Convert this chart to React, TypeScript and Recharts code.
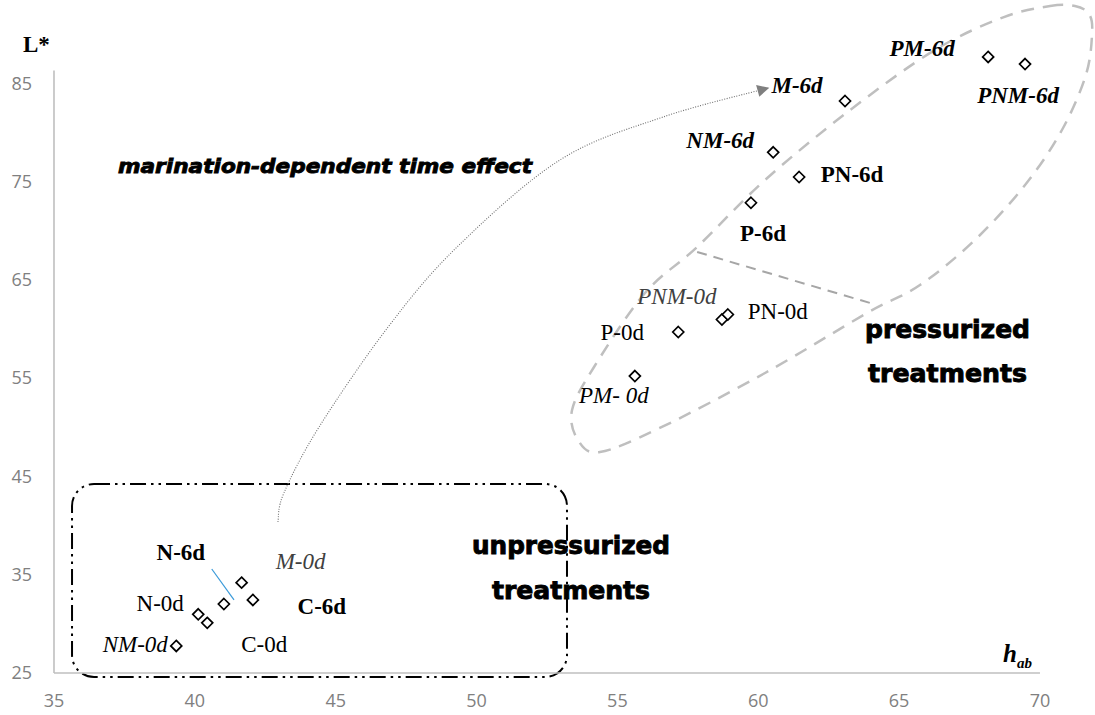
import React from "react";
import { ScatterChart, Scatter, XAxis, YAxis, ReferenceLine, ReferenceArea } from "recharts";

// samples (h_ab vs L*)
const sampleNames = [
  "NM-0d", "C-0d", "N-0d", "N-6d", "C-6d", "M-0d",
  "PM- 0d", "P-0d", "PNM-0d", "PN-0d", "P-6d", "NM-6d", "PN-6d", "M-6d", "PM-6d", "PNM-6d",
];
const habValues = [39.34, 40.44, 40.12, 41.03, 42.06, 41.66, 55.62, 57.16, 58.71, 58.92, 59.74, 60.53, 61.45, 63.08, 68.16, 69.47];
const lStarValues = [27.75, 30.1, 30.97, 32.02, 32.43, 34.19, 55.21, 59.69, 60.96, 61.47, 72.84, 77.97, 75.46, 83.19, 87.67, 86.95];

const xTicks = [35, 40, 45, 50, 55, 60, 65, 70];
const yTicks = [25, 35, 45, 55, 65, 75, 85];

// outline around the pressurized group
const ellipseHab = [70.36, 71.24, 71.74, 71.85, 71.63, 70.78, 69.47, 67.69, 65.74, 63.86, 60.24, 56.58, 54.38, 53.6, 53.39, 54.17, 55.98, 57.83, 60.24, 63.26, 66.27, 68.72];
const ellipseL = [92.85, 92.85, 92.04, 90.11, 85.84, 80.24, 74.64, 69.05, 64.47, 61.62, 55.52, 50.03, 47.48, 48.7, 51.75, 56.13, 63.66, 68.34, 75.15, 82.27, 88.38, 91.73];

// dotted arrow "marination-dependent time effect"
const arrowHab = [42.95, 43.16, 44.41, 46.86, 49.31, 52.96, 56.62, 60.35];
const arrowL = [40.36, 43.31, 50.03, 60.2, 68.34, 77.19, 81.56, 84.51];

const points = sampleNames.map((name, i) => ({ name, hab: habValues[i], L: lStarValues[i] }));
const ellipse = ellipseHab.map((hab, i) => ({ hab, L: ellipseL[i] }));
const arrow = arrowHab.map((hab, i) => ({ hab, L: arrowL[i] }));

const SERIF = '"Liberation Serif", "DejaVu Serif", serif';
const HEAVY = '"DejaVu Sans", "Liberation Sans", sans-serif';
const TICK = '"Open Sans", "Liberation Sans", sans-serif';

// label placement relative to each marker (px) and text style
const labelLayout: Record<string, { dx: number; dy: number; bold?: boolean; italic?: boolean; color?: string }> = {
  "NM-0d": { dx: -41, dy: -1, italic: true },
  "C-0d": { dx: 57, dy: 22 },
  "N-0d": { dx: -38, dy: -11 },
  "N-6d": { dx: -43, dy: -51, bold: true },
  "C-6d": { dx: 69, dy: 7, bold: true },
  "M-0d": { dx: 59, dy: -21, italic: true, color: "#404040" },
  "PM- 0d": { dx: -21, dy: 19, italic: true },
  "P-0d": { dx: -56, dy: 1 },
  "PNM-0d": { dx: -45, dy: -23, italic: true, color: "#404040" },
  "PN-0d": { dx: 50, dy: -3 },
  "P-6d": { dx: 12, dy: 31, bold: true },
  "NM-6d": { dx: -53, dy: -12, bold: true, italic: true },
  "PN-6d": { dx: 53, dy: -2, bold: true },
  "M-6d": { dx: -48, dy: -15, bold: true, italic: true },
  "PM-6d": { dx: -66, dy: -8, bold: true, italic: true },
  "PNM-6d": { dx: -7, dy: 31, bold: true, italic: true },
};

function smoothPath(pts: { x: number; y: number }[], closed: boolean) {
  const n = pts.length;
  if (n < 2) return "";
  const get = (i: number) => (closed ? pts[(i + n) % n] : pts[Math.max(0, Math.min(n - 1, i))]);
  let d = `M${pts[0].x},${pts[0].y}`;
  const segs = closed ? n : n - 1;
  for (let i = 0; i < segs; i++) {
    const p0 = get(i - 1), p1 = get(i), p2 = get(i + 1), p3 = get(i + 2);
    const c1x = p1.x + (p2.x - p0.x) / 6, c1y = p1.y + (p2.y - p0.y) / 6;
    const c2x = p2.x - (p3.x - p1.x) / 6, c2y = p2.y - (p3.y - p1.y) / 6;
    d += ` C${c1x},${c1y} ${c2x},${c2y} ${p2.x},${p2.y}`;
  }
  return closed ? d + " Z" : d;
}

const Diamond = (props: any) => {
  const { cx, cy, payload } = props;
  if (cx == null || cy == null) return <g />;
  const r = 5.5;
  const lay = labelLayout[payload?.name] || { dx: 0, dy: -14 };
  return (
    <g>
      <path
        d={`M${cx},${cy - r} L${cx + r},${cy} L${cx},${cy + r} L${cx - r},${cy} Z`}
        fill="#fff"
        stroke="#000"
        strokeWidth={1.7}
      />
      <text
        x={cx + lay.dx}
        y={cy + lay.dy}
        textAnchor="middle"
        dominantBaseline="central"
        fontFamily={SERIF}
        fontSize={23}
        fontWeight={lay.bold ? 700 : 400}
        fontStyle={lay.italic ? "italic" : "normal"}
        fill={lay.color || "#000"}
      >
        {payload?.name}
      </text>
    </g>
  );
};

const NoDot = () => <g />;

const heavy = { fontFamily: HEAVY, fontWeight: 700, fill: "#000", stroke: "#000", strokeWidth: 0.9 };

export default function App() {
  return (
    <div style={{ position: "absolute", left: 0, top: 0, width: 1095, height: 715, background: "#fff" }}>
      <ScatterChart width={1095} height={715} margin={{ top: 4.56, right: 1.5, left: 0, bottom: 12 }}>
        <defs>
          <marker id="arrowHead" viewBox="0 0 10 10" refX="9" refY="5" markerWidth="15" markerHeight="12" markerUnits="userSpaceOnUse" orient="auto">
            <path d="M0,0 L10,5 L0,10 z" fill="#7f7f7f" />
          </marker>
        </defs>
        <XAxis
          type="number"
          dataKey="hab"
          domain={[35, 71.9]}
          ticks={xTicks}
          axisLine={false}
          tickLine={false}
          tickMargin={15}
          height={30}
          tick={{ fill: "#808080", fontSize: 18, fontFamily: TICK }}
        />
        <YAxis
          type="number"
          dataKey="L"
          domain={[25, 93]}
          ticks={yTicks}
          axisLine={false}
          tickLine={false}
          tickMargin={16}
          width={54}
          tick={{ fill: "#808080", fontSize: 18, fontFamily: TICK }}
        />
        <ReferenceLine segment={[{ x: 35, y: 25 }, { x: 70, y: 25 }]} stroke="#bfbfbf" strokeWidth={1.6} />
        <ReferenceLine segment={[{ x: 35, y: 25 }, { x: 35, y: 86.3 }]} stroke="#bfbfbf" strokeWidth={1.6} />
        <ReferenceArea
          x1={35.64}
          x2={53.21}
          y1={24.59}
          y2={44.23}
          ifOverflow="visible"
          shape={(p: any) => (
            <rect
              x={p.x}
              y={p.y}
              width={p.width}
              height={p.height}
              rx={22}
              ry={22}
              fill="none"
              stroke="#000"
              strokeWidth={2}
              strokeDasharray="16 5 2.5 5 2.5 5"
            />
          )}
        />
        <ReferenceLine segment={[{ x: 57.83, y: 67.83 }, { x: 63.97, y: 62.64 }]} stroke="#a6a6a6" strokeWidth={2} strokeDasharray="10 7" />
        <ReferenceLine segment={[{ x: 40.6, y: 35.58 }, { x: 41.39, y: 32.43 }]} stroke="#3a9ad9" strokeWidth={1.2} />
        <Scatter
          data={ellipse}
          shape={NoDot}
          isAnimationActive={false}
          line={(p: any) => (
            <path d={smoothPath(p.points, true)} fill="none" stroke="#bfbfbf" strokeWidth={2.5} strokeDasharray="13 9" />
          )}
        />
        <Scatter
          data={arrow}
          shape={NoDot}
          isAnimationActive={false}
          line={(p: any) => (
            <path
              d={smoothPath(p.points, false)}
              fill="none"
              stroke="#6f6f6f"
              strokeWidth={1.1}
              strokeDasharray="1 1.5"
              markerEnd="url(#arrowHead)"
            />
          )}
        />
        <Scatter data={points} shape={Diamond} isAnimationActive={false} />
        <text x={118} y={173} {...heavy} fontStyle="italic" fontSize={20} textLength={414} lengthAdjust="spacingAndGlyphs">
          marination-dependent time effect
        </text>
        <text x={865} y={338} {...heavy} fontSize={24} textLength={165} lengthAdjust="spacingAndGlyphs">
          pressurized
        </text>
        <text x={868} y={382} {...heavy} fontSize={24} textLength={159} lengthAdjust="spacingAndGlyphs">
          treatments
        </text>
        <text x={472} y={554} {...heavy} fontSize={24} textLength={198} lengthAdjust="spacingAndGlyphs">
          unpressurized
        </text>
        <text x={492} y={599} {...heavy} fontSize={24} textLength={158} lengthAdjust="spacingAndGlyphs">
          treatments
        </text>
        <text x={23} y={52} fontFamily={SERIF} fontWeight={700} fontSize={23}>
          L*
        </text>
        <text x={1003} y={662} fontFamily={SERIF} fontWeight={700} fontStyle="italic" fontSize={25}>
          h<tspan fontSize={15} dy={6}>ab</tspan>
        </text>
      </ScatterChart>
    </div>
  );
}
